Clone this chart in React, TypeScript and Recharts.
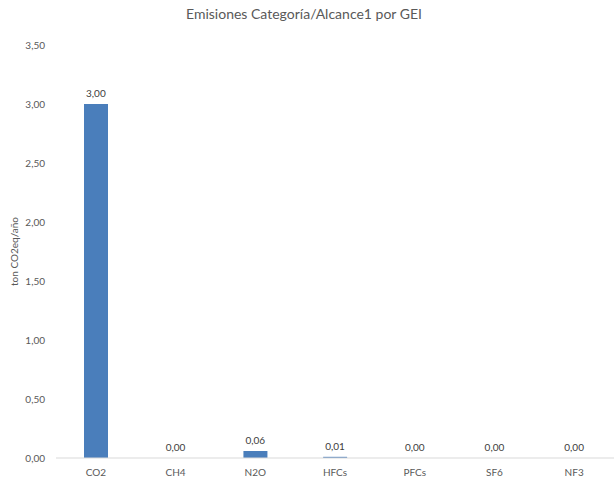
import React from "react";
import { ComposedChart, Bar, Line, XAxis, YAxis, LabelList } from "recharts";

const gases = ["CO2", "CH4", "N2O", "HFCs", "PFCs", "SF6", "NF3"];
const emissions = [3.0, 0.0, 0.06, 0.01, 0.0, 0.0, 0.0];
const yTicks = [0, 0.5, 1, 1.5, 2, 2.5, 3, 3.5];

const data = gases.map((g, i) => ({ gas: g, value: emissions[i] }));

const fmt = (v: number) => Number(v).toFixed(2).replace(".", ",");

const font = "Lato, 'Open Sans', sans-serif";

export default function App() {
  return (
    <div style={{ position: "absolute", left: 0, top: 0, width: 614, height: 477, fontFamily: font }}>
      <div
        style={{
          position: "absolute",
          top: 5,
          left: 0,
          width: 608,
          textAlign: "center",
          fontSize: 14,
          color: "#595959",
        }}
      >
        Emisiones Categoría/Alcance1 por GEI
      </div>
      <ComposedChart
        width={614}
        height={477}
        data={data}
        margin={{ top: 45, right: 0, left: 0, bottom: 0 }}
      >
        <XAxis
          dataKey="gas"
          height={19}
          tickLine={false}
          axisLine={{ stroke: "#d9d9d9" }}
          tick={{ fontSize: 10, fill: "#595959", fontFamily: font }}
          tickMargin={5}
          interval={0}
        />
        <YAxis
          width={56}
          domain={[0, 3.5]}
          ticks={yTicks}
          tickFormatter={fmt}
          axisLine={false}
          tickLine={false}
          tick={{ fontSize: 10, fill: "#595959", fontFamily: font }}
          tickMargin={5}
          label={{
            value: "ton CO2eq/año",
            angle: -90,
            position: "insideLeft",
            offset: 14,
            style: { fontSize: 10, fill: "#595959", fontFamily: font, textAnchor: "middle" },
          }}
        />
        <Bar dataKey="value" fill="#4a7ebb" barSize={24} isAnimationActive={false} />
        <Line
          dataKey="value"
          stroke="none"
          dot={false}
          activeDot={false}
          isAnimationActive={false}
        >
          <LabelList
            dataKey="value"
            position="top"
            offset={7}
            formatter={fmt}
            style={{ fontSize: 10, fill: "#404040", fontFamily: font }}
          />
        </Line>
      </ComposedChart>
    </div>
  );
}
